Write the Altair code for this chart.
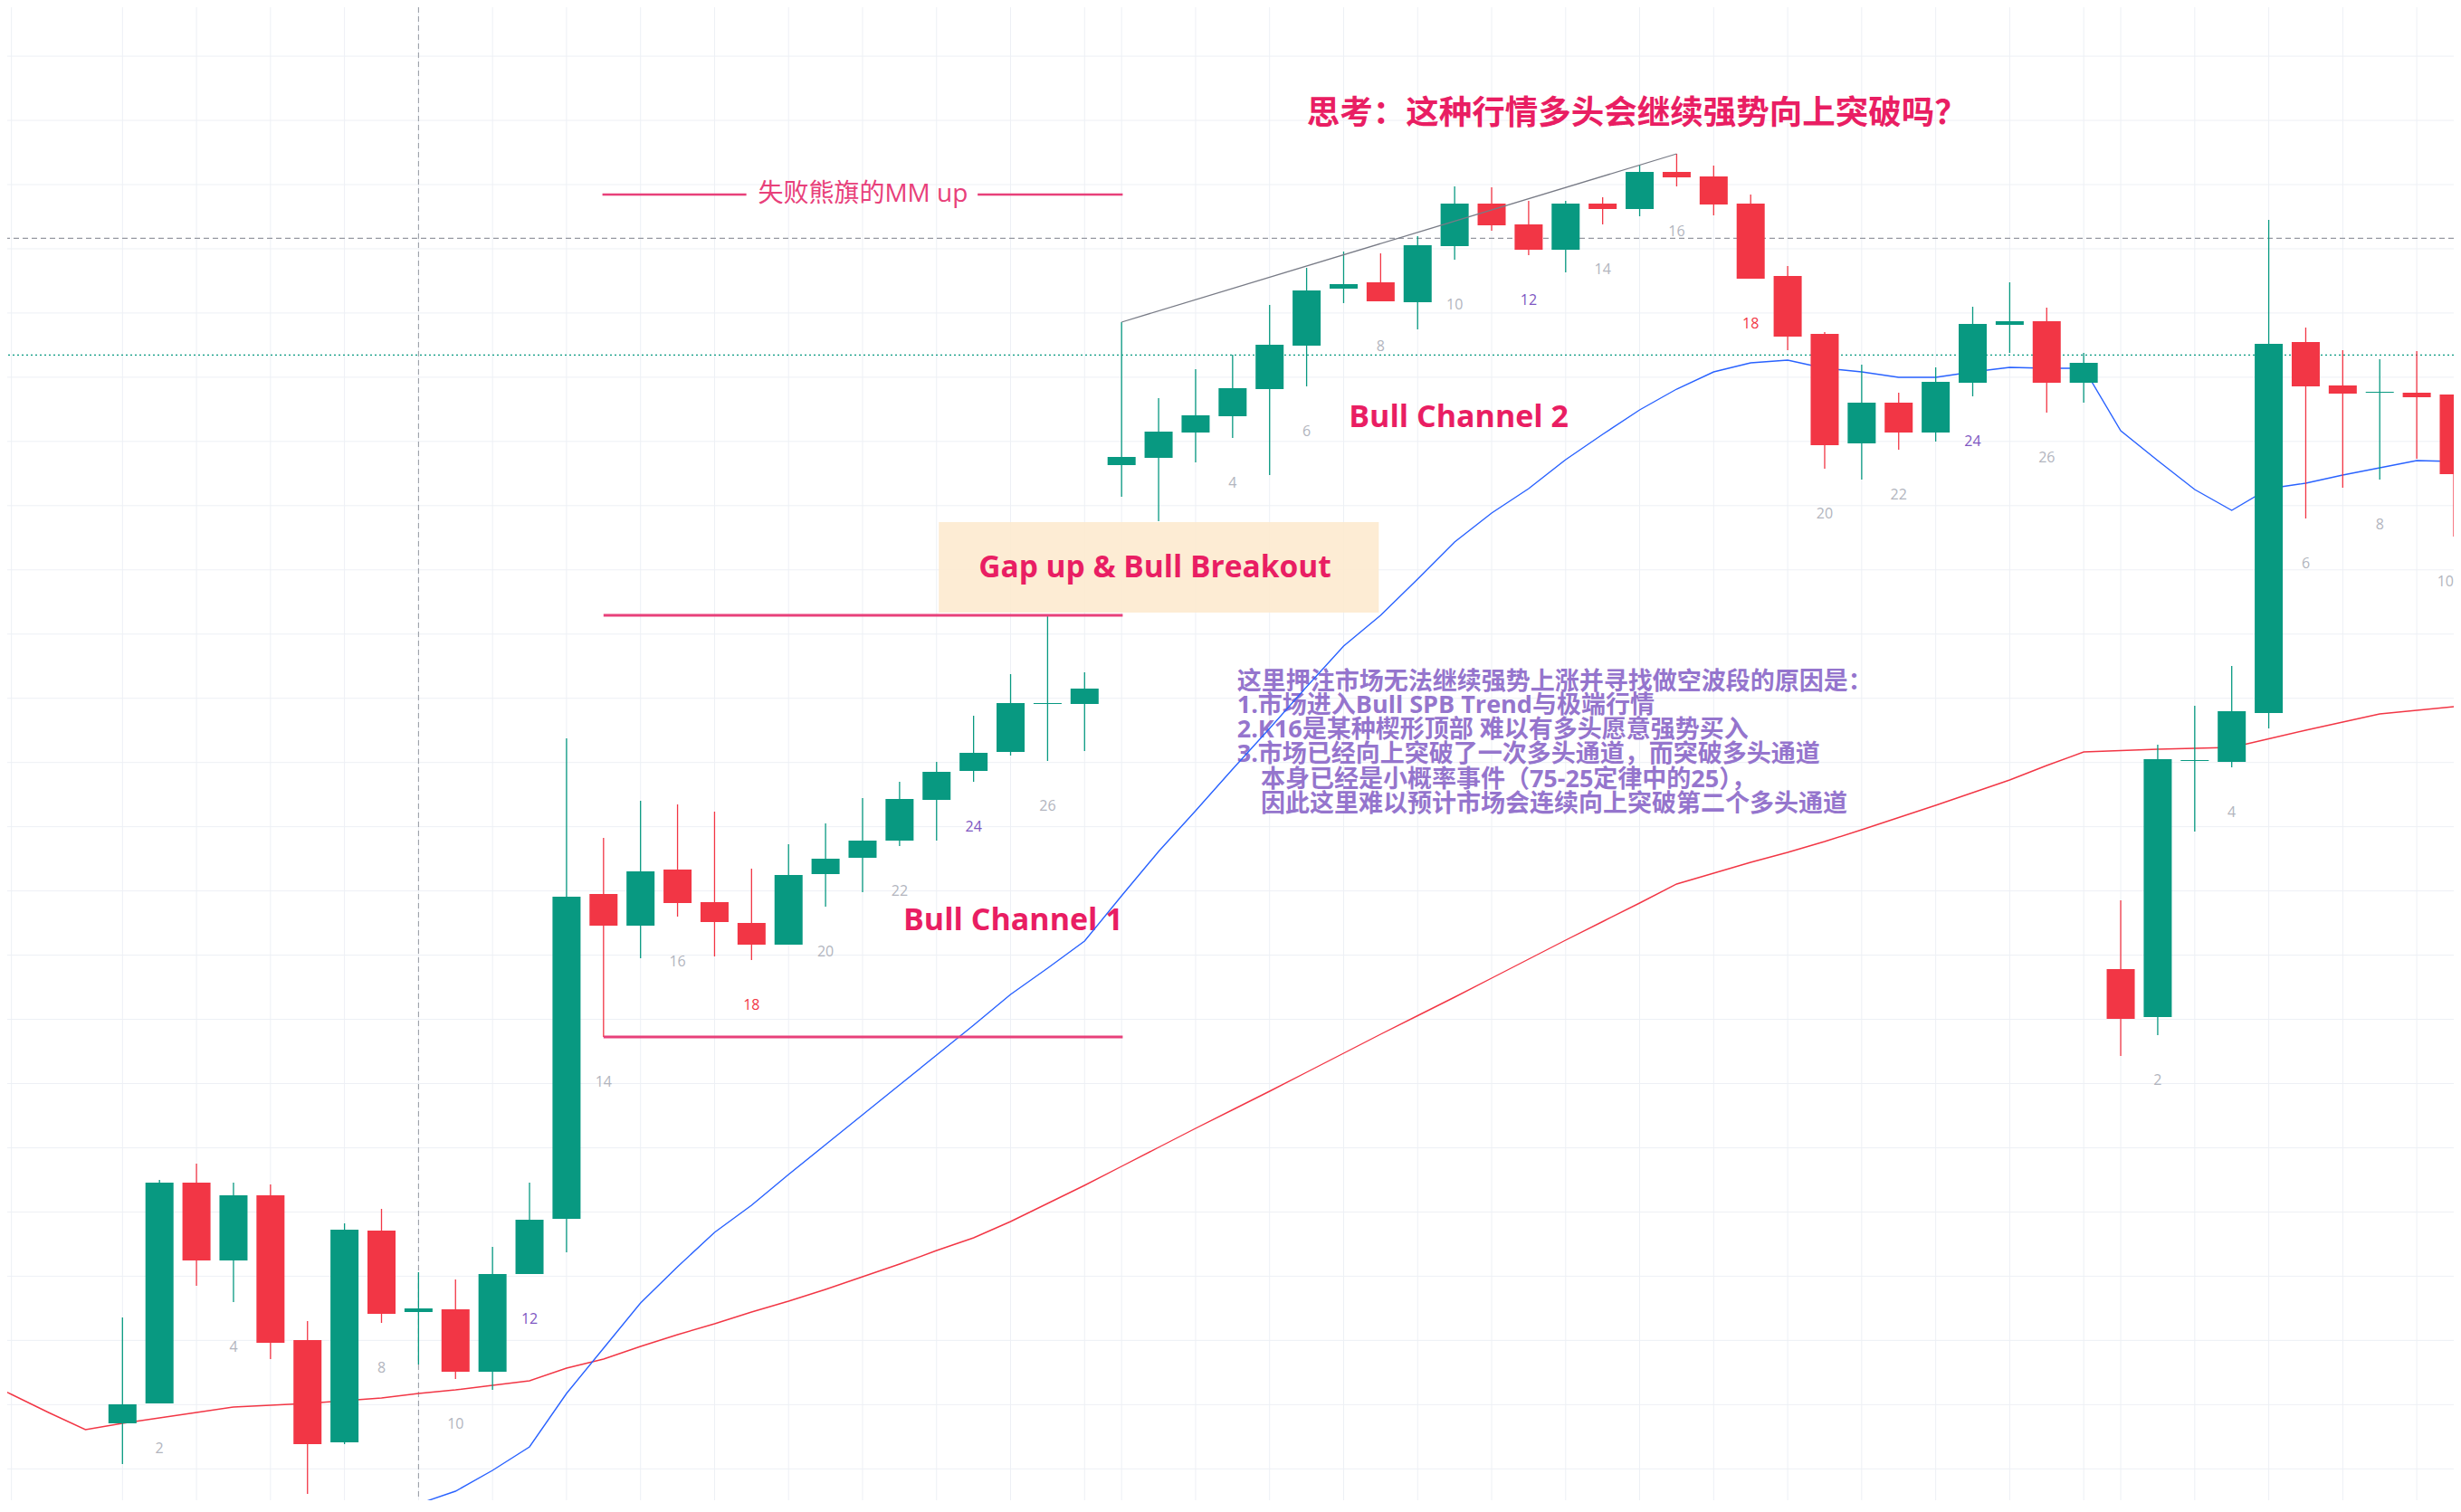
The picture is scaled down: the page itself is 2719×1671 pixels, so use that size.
import altair as alt
import pandas as pd

# ---------------- candle data (chart points) ----------------
d1_open  = [127,149,393,307,379,219,106,340,250,253,184,292,353,712,677,739,703,680,656,734,752,771,816,848,869,922,922]
d1_close = [148,393,307,379,216,104,341,248,254,184,292,352,709,677,737,702,681,656,733,751,771,817,847,868,923,923,939]
d1_high  = [244,396,414,393,391,240,348,364,294,286,322,393,884,774,815,811,803,740,767,790,818,836,858,909,955,1021,957]
d1_low   = [82,149,279,261,198,49,104,238,192,176,164,292,316,554,641,687,643,639,656,698,714,765,771,836,865,859,870]

d2_open  = [1186,1194,1222,1240,1270,1318,1381,1388,1366,1428,1475,1452,1424,1475,1469,1510,1505,1475,1395,1331,1210,1255,1222,1277,1341,1345,1277]
d2_close = [1195,1223,1241,1271,1319,1379,1386,1367,1429,1475,1451,1424,1475,1469,1510,1504,1474,1392,1328,1208,1255,1222,1278,1342,1345,1277,1299]
d2_high  = [1344,1260,1292,1308,1363,1404,1422,1420,1439,1494,1493,1478,1478,1482,1518,1530,1517,1485,1406,1333,1297,1266,1294,1361,1388,1360,1310]
d2_low   = [1151,1124,1189,1216,1175,1273,1365,1367,1336,1413,1445,1418,1399,1452,1461,1494,1462,1392,1313,1182,1170,1203,1212,1262,1310,1244,1255]

d3_open  = [629,576,859,858,912,1322,1274,1266,1266,1264]
d3_close = [574,861,860,914,1320,1273,1265,1267,1261,1176]
d3_high  = [705,877,920,964,1457,1338,1313,1303,1312,1264]
d3_low   = [533,556,781,852,895,1127,1161,1170,1193,1107]

# moving averages (value per bar index)
ema_fast_start = 7
ema_fast = [14,38,52,75,101,160,210,260,300,338,368,402,435,468,501,534,567,601,630,660,
            710,759,804,850,895,941,986,1020,1060,1101,1133,1160,1192,1220,1247,1270,1289,1299,1302,1293,
            1289,1283,1283,1289,1294,1293,1293,
            1224,1191,1159,1136,1160,1166,1175,1183,1191,1190,1188]
ema_slow_start = -4
ema_slow = [178.5,159,139,120,
            127,133,139,145,147,149,152,155,160,164,169,174,188,198,212,225,237,250,262,275,289,303,318,332,350,370,390,
            411,432,453,473.5,494,515,536,557,577.5,598,619,640,661,681.5,702,723,735,747,758,770,783,796.5,810,824,838,854,869,
            870.5,872,873,874,883.5,893,902,911,915,919,923]

# ---------------- annotation texts ----------------
title_text = "思考：这种行情多头会继续强势向上突破吗？"
mm_text = "失败熊旗的MM up"
box_text = "Gap up & Bull Breakout"
ch1_text = "Bull Channel 1"
ch2_text = "Bull Channel 2"
note_lines = [
    "这里押注市场无法继续强势上涨并寻找做空波段的原因是：",
    "1.市场进入Bull SPB Trend与极端行情",
    "2.K16是某种楔形顶部 难以有多头愿意强势买入",
    "3.市场已经向上突破了一次多头通道，而突破多头通道",
    "本身已经是小概率事件（75-25定律中的25），",
    "因此这里难以预计市场会连续向上突破第二个多头通道",
]
note_levels = [946, 920, 893, 866, 838, 811]
note_starts = [30.12, 30.12, 30.12, 30.12, 30.76, 30.76]

UP, DOWN = "#089981", "#f23645"

# ---------------- build tables ----------------
rows = []
idx = 0
for o, h, l, c in [(d1_open, d1_high, d1_low, d1_close),
                   (d2_open, d2_high, d2_low, d2_close),
                   (d3_open, d3_high, d3_low, d3_close)]:
    for k in range(len(o)):
        rows.append(dict(i=idx, bar=k + 1, open=o[k], high=h[k], low=l[k], close=c[k],
                         col=UP if c[k] >= o[k] else DOWN))
        idx += 1
bars = pd.DataFrame(rows)
last_i = bars.i.max()

labels = bars[(bars.bar % 2 == 0) & (bars.low > 95)].copy()
labels["lab"] = labels.bar.astype(str)
labels["lcol"] = labels.bar.map(lambda b: "#f23645" if b == 18 else ("#7e57c2" if b in (12, 24) else "#b2b5be"))
labels_mid = labels[labels.i < last_i]
labels_edge = labels[labels.i >= last_i]

fast = pd.DataFrame({"i": list(range(ema_fast_start, ema_fast_start + len(ema_fast))), "v": ema_fast})
slow = pd.DataFrame({"i": list(range(ema_slow_start, ema_slow_start + len(ema_slow))), "v": ema_slow})

xs = alt.Scale(domain=[-3.114, 63.0], nice=False, zero=False, padding=0)
ys = alt.Scale(domain=[42, 1692], nice=False, zero=False, padding=0)


def X(f):
    return alt.X(f, type="quantitative", scale=xs, axis=None)


def Y(f):
    return alt.Y(f, type="quantitative", scale=ys, axis=None)


CJK = "Noto Sans CJK SC"
LAT = "Open Sans, Noto Sans CJK SC"
PINK = "#e91e63"

# grid
grid_h = pd.DataFrame({"P": [1496 - 70.965 * k for k in range(-2, 21)]})
grid_v = pd.DataFrame({"i": [-3] + list(range(0, 27, 2)) + list(range(27, 54, 2)) + list(range(54, 63, 2))})
g1 = alt.Chart(grid_h).mark_rule(color="#edf0f5", strokeWidth=1).encode(y=Y("P"))
g2 = alt.Chart(grid_v).mark_rule(color="#edf0f5", strokeWidth=1, clip=True).encode(x=X("i"))

cross_v = alt.Chart(pd.DataFrame({"i": [8]})).mark_rule(color="#9598a1", strokeWidth=1, strokeDash=[6, 4]).encode(x=X("i"))
dash_h = alt.Chart(pd.DataFrame({"P": [1436.7]})).mark_rule(color="#9598a1", strokeWidth=1.2, strokeDash=[6, 4]).encode(y=Y("P"))
teal_h = alt.Chart(pd.DataFrame({"P": [1307.7]})).mark_rule(color="#089981", strokeWidth=1.2, strokeDash=[2, 3]).encode(y=Y("P"))

lab = alt.Chart(labels_mid).mark_text(font="Open Sans", fontSize=16, baseline="middle", align="center", dy=50).encode(
    x=X("i"), y=Y("low"), text="lab:N", color=alt.Color("lcol:N", scale=None))
lab_edge = alt.Chart(labels_edge).mark_text(font="Open Sans", fontSize=16, baseline="middle", align="right", dy=50).encode(
    x=X("i"), y=Y("low"), text="lab:N", color=alt.Color("lcol:N", scale=None))

box = alt.Chart(pd.DataFrame({"i1": [22.06], "i2": [33.95], "p1": [1123], "p2": [1023]})).mark_rect(
    color="#fde9ce", opacity=0.88).encode(x=X("i1"), x2=alt.X2("i2"), y=Y("p1"), y2=alt.Y2("p2"))
box_t = alt.Chart(pd.DataFrame({"i": [27.9], "P": [1062], "t": [box_text]})).mark_text(
    font="Open Sans", fontSize=33.5, fontWeight="bold", color=PINK, align="center", baseline="alphabetic").encode(
    x=X("i"), y=Y("P"), text="t:N")

ch_t = alt.Chart(pd.DataFrame({"i": [24.07, 36.11], "P": [672, 1228], "t": [ch1_text, ch2_text]})).mark_text(
    font="Open Sans", fontSize=34, fontWeight="bold", color=PINK, align="center", baseline="alphabetic").encode(
    x=X("i"), y=Y("P"), text="t:N")

note = alt.Chart(pd.DataFrame({"i": note_starts, "P": note_levels, "t": note_lines})).mark_text(
    font=LAT, fontSize=27, fontWeight="bold", color="#9575cd", align="left", baseline="middle").encode(
    x=X("i"), y=Y("P"), text="t:N")

title = alt.Chart(pd.DataFrame({"i": [40.93], "P": [1574], "t": [title_text]})).mark_text(
    font=CJK, fontSize=36.5, fontWeight="bold", color=PINK, align="center", baseline="middle").encode(
    x=X("i"), y=Y("P"), text="t:N")

mm = alt.Chart(pd.DataFrame({"i": [20.01], "P": [1485], "t": [mm_text]})).mark_text(
    font=LAT, fontSize=28, color="#e8407a", align="center", baseline="middle").encode(
    x=X("i"), y=Y("P"), text="t:N")
mm_lines = alt.Chart(pd.DataFrame({"i1": [12.97, 23.11], "i2": [16.86, 27.03], "P": [1485, 1485]})).mark_rule(
    color="#e8407a", strokeWidth=2.5).encode(x=X("i1"), x2=alt.X2("i2"), y=Y("P"))

l_fast = alt.Chart(fast).mark_line(color="#2962ff", strokeWidth=1.4, clip=True).encode(x=X("i"), y=Y("v"))
l_slow = alt.Chart(slow).mark_line(color="#f23645", strokeWidth=1.4, clip=True).encode(x=X("i"), y=Y("v"))

wick = alt.Chart(bars).mark_rule(strokeWidth=1.3, clip=True).encode(
    x=X("i"), y=Y("low"), y2=alt.Y2("high"), color=alt.Color("col:N", scale=None))
body = alt.Chart(bars).mark_bar(size=31, clip=True).encode(
    x=X("i"), y=Y("open"), y2=alt.Y2("close"), color=alt.Color("col:N", scale=None))

chan = alt.Chart(pd.DataFrame({"i1": [13, 13], "i2": [27.03, 27.03], "P": [1020, 554]})).mark_rule(
    color="#e8407a", strokeWidth=3).encode(x=X("i1"), x2=alt.X2("i2"), y=Y("P"))

wedge = alt.Chart(pd.DataFrame({"i1": [27], "i2": [42], "p1": [1344], "p2": [1530]})).mark_rule(
    color="#787b86", strokeWidth=1.3).encode(x=X("i1"), x2=alt.X2("i2"), y=Y("p1"), y2=alt.Y2("p2"))

chart = alt.layer(
    g1, g2, cross_v, dash_h, teal_h, lab, lab_edge, box, box_t, ch_t, note, title, mm, mm_lines,
    l_slow, l_fast, wick, body, chan, wedge
).properties(
    width=2703, height=1650, padding=0, background="white",
    autosize=alt.AutoSizeParams(type="none"),
).configure_view(stroke=None)

chart.save("out.html", embed_options={"renderer": "svg", "actions": False})
